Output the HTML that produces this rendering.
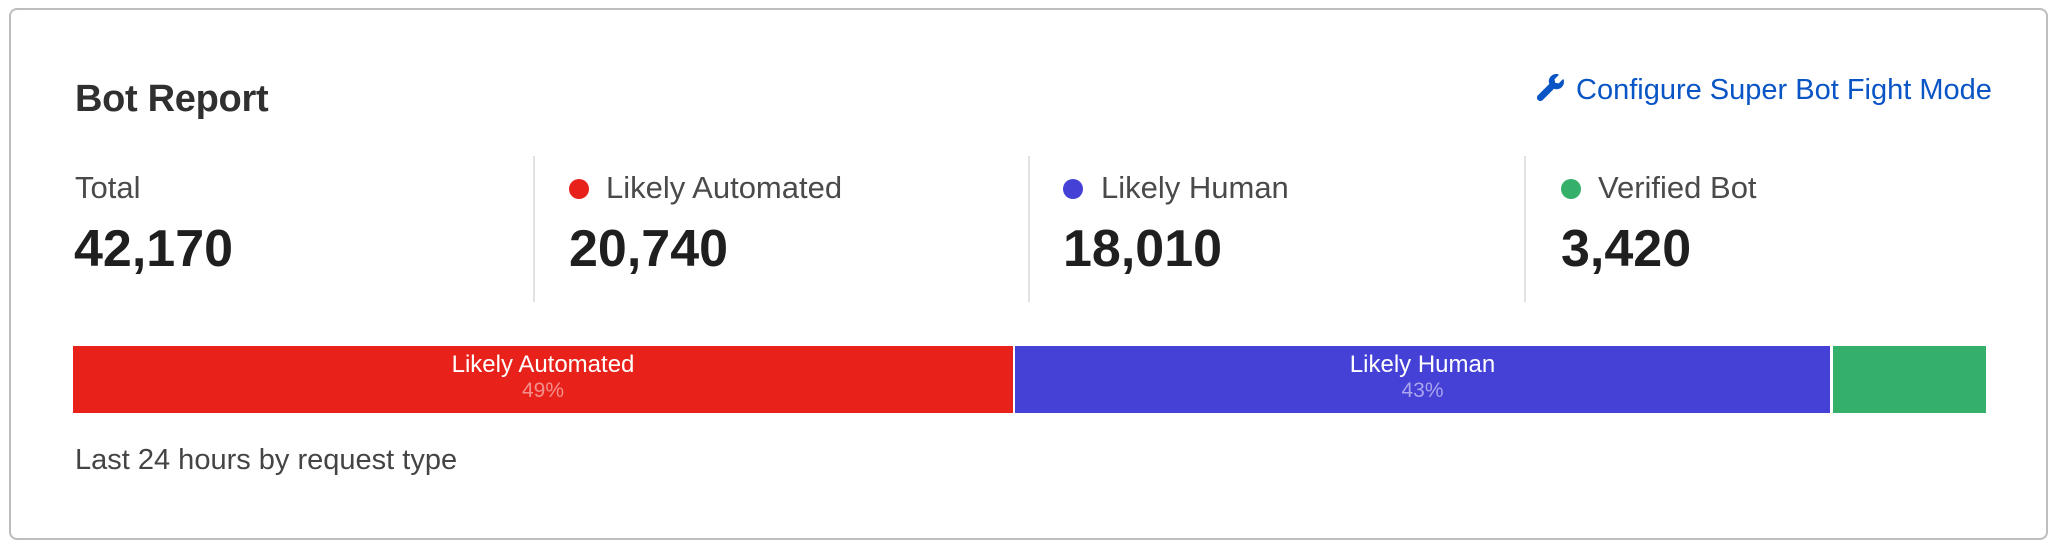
<!DOCTYPE html>
<html><head><meta charset="utf-8"><style>
*{margin:0;padding:0;box-sizing:border-box}
body{width:2062px;height:550px;background:#fff;font-family:"Liberation Sans",sans-serif;position:relative;overflow:hidden}
.card{position:absolute;left:9px;top:8px;width:2039px;height:532px;border:2px solid #bdbdbd;border-radius:8px}
.a{position:absolute;white-space:nowrap}
.title{left:75px;top:79px;font-size:38px;font-weight:bold;color:#303030;line-height:40px;letter-spacing:-0.3px}
.link{left:1576px;top:75px;font-size:29px;color:#0a55c5;line-height:30px}
.lbl{font-size:31px;color:#4a4a4a;top:172px;line-height:32px}
.num{font-size:52px;font-weight:bold;color:#1f1f1f;top:222px;line-height:54px}
.div{position:absolute;top:156px;width:2px;height:146px;background:#e2e2e2}
.dot{position:absolute;top:179px;width:20px;height:20px;border-radius:50%}
.seg{position:absolute;top:346px;height:67px;text-align:center;color:#fff}
.seg .t{font-size:24px;margin-top:6px;line-height:26px}
.seg .p{font-size:21px;line-height:24px;margin-top:1px}
.foot{left:75px;top:444px;font-size:29px;color:#444;line-height:32px}
</style></head><body>
<div class="card"></div>
<div class="a title">Bot Report</div>
<svg class="a" style="left:1536px;top:74px" width="29" height="27" viewBox="0 0 512 512"><path fill="#0a55c5" d="M507 109c-2-9-13-12-20-6l-75 75-68-11-11-68 75-75c7-7 3-18-6-20-48-12-101 0-138 38-40 40-50 98-32 147L18 403c-25 25-25 66 0 91s66 25 91 0l214-214c49 18 107 8 147-32 38-38 50-91 37-139z"/></svg>
<div class="a link">Configure Super Bot Fight Mode</div>
<div class="a lbl" style="left:75px">Total</div>
<div class="a num" style="left:74px">42,170</div>
<div class="div" style="left:533px"></div>
<div class="dot" style="left:569px;background:#e8221b"></div>
<div class="a lbl" style="left:606px">Likely Automated</div>
<div class="a num" style="left:569px">20,740</div>
<div class="div" style="left:1028px"></div>
<div class="dot" style="left:1063px;background:#4540d6"></div>
<div class="a lbl" style="left:1101px">Likely Human</div>
<div class="a num" style="left:1063px">18,010</div>
<div class="div" style="left:1524px"></div>
<div class="dot" style="left:1561px;background:#34b06a"></div>
<div class="a lbl" style="left:1598px">Verified Bot</div>
<div class="a num" style="left:1561px">3,420</div>
<div class="seg" style="left:73px;width:940px;background:#e8221b"><div class="t">Likely Automated</div><div class="p" style="color:#f4908b">49%</div></div>
<div class="seg" style="left:1015px;width:815px;background:#4540d6"><div class="t">Likely Human</div><div class="p" style="color:#a9a6ee">43%</div></div>
<div class="seg" style="left:1833px;width:153px;background:#34b06a"></div>
<div class="a foot">Last 24 hours by request type</div>
</body></html>
